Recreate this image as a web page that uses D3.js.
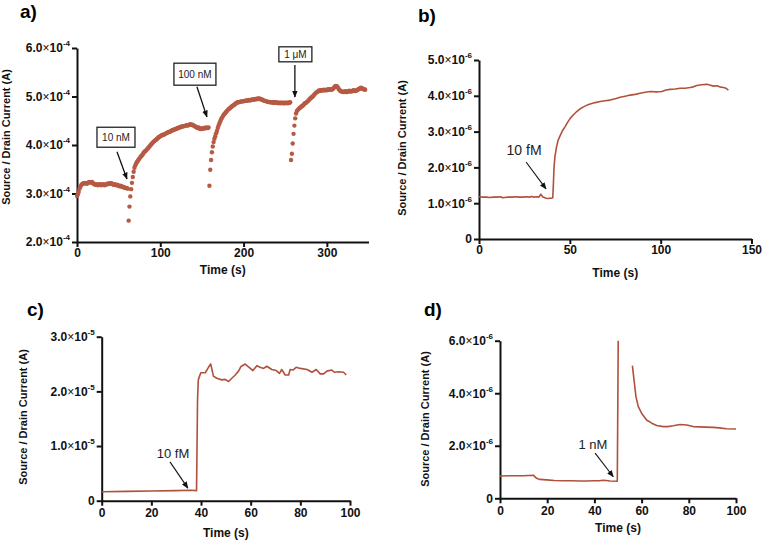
<!DOCTYPE html>
<html><head><meta charset="utf-8">
<script src="https://cdn.jsdelivr.net/npm/d3@7"></script>
<style>
body{margin:0;background:#fff}
svg{display:block}
text{font-family:"Liberation Sans",Arial,sans-serif}
</style>
</head><body>
<svg id="chart" width="762" height="541"></svg>
<script>
// ---------- DATA ----------
// Panel a: current (units of 1e-6 A) sampled every 1 s from t = 0 s
const stepA = 1;
const currentA = [
295,298,303,310,314,317,319,320,321,321,
322,321,320,322,323,324,323,322,324,322,
320,319,318,319,318,317,318,319,318,317,
318,319,318,317,318,319,320,319,320,321,
320,321,320,319,318,319,318,317,318,317,
316,315,316,315,314,314,313,312,312,311,
311,310,
244,273,294,309,322,334,345,353,358,362,
365,367,370,372,375,377,379,381,384,386,
387,389,391,393,395,397,399,401,403,405,
407,408,410,411,413,414,416,417,418,419,
420,421,421,422,423,424,425,426,427,427,
428,429,430,431,431,432,433,433,434,435,
435,436,437,437,438,438,439,439,440,440,
441,440,441,442,443,442,441,442,440,439,
438,437,436,435,436,434,433,434,433,434,
435,434,435,436,435,435,436,
316,349,369,385,397,406,413,418,424,429,
435,440,445,449,453,456,459,462,464,466,
468,470,472,474,475,477,478,480,481,482,
483,485,486,487,488,488,489,489,490,490,
490,490,491,491,492,491,492,493,492,492,
493,494,493,494,494,495,494,495,496,495,
496,495,494,494,493,492,491,491,490,490,
489,489,488,489,488,488,487,488,487,487,
488,487,487,486,487,487,486,487,487,486,
487,486,487,487,486,487,487,488,
369,382,403,423,440,455,465,470,472,474,
476,477,479,480,481,483,485,486,487,489,
490,492,494,496,497,499,500,502,504,506,
508,509,510,512,512,513,512,513,513,514,
513,513,514,513,514,515,514,515,514,515,
515,517,519,521,522,521,519,516,514,512,
511,510,510,509,510,511,510,509,510,511,
512,511,510,511,512,513,512,511,512,513,
514,515,516,517,518,517,516,515,515,514
];
const annotA = [
  {label:"10 nM", t:46.8, v:4.16, w:38, h:20, from:[48,3.86], to:[60,3.30]},
  {label:"100 nM", t:141.6, v:5.46, w:42, h:22, from:[144,5.20], to:[156,4.58]},
  {label:"1 \u03bcM", t:262.2, v:5.87, w:33, h:15, from:[261.6,5.65], to:[261.6,4.99]}
];

// Panel b (units 1e-6 A)
const timeB = [0,2,4,6,8,10,12,13,14,16,18,20,22,24,26,28,29,30,32,33,34,35,36,37,38,39,40,40.6,41.0,41.3,41.8,42.7,43.5,44.6,46,47.4,49,50.2,52,53.8,55.5,57.5,59.5,61.2,64,66.7,69.5,72.2,75,77.7,80.5,83.2,86,88.7,91.5,94.2,97.5,100.6,103,105.2,108,110.7,113.5,116.2,118,119.9,122.5,125.4,127,129,131,132.5,134.5,136,137.3];
const currentB = [1.18,1.17,1.17,1.16,1.17,1.17,1.18,1.15,1.16,1.17,1.17,1.18,1.17,1.17,1.18,1.17,1.19,1.17,1.18,1.17,1.25,1.18,1.16,1.14,1.13,1.14,1.14,1.15,1.60,2.00,2.30,2.58,2.75,2.88,3.03,3.14,3.28,3.37,3.47,3.56,3.63,3.69,3.74,3.77,3.81,3.84,3.86,3.88,3.92,3.96,3.99,4.02,4.04,4.07,4.10,4.12,4.11,4.12,4.16,4.18,4.19,4.21,4.21,4.23,4.25,4.29,4.31,4.32,4.30,4.27,4.28,4.25,4.23,4.21,4.16];

// Panel c (units 1e-5 A)
const timeC = [0,10,20,30,36,38.2,38.6,38.9,39.9,41.7,43.0,43.9,45.0,46.3,48.4,49.7,51.1,52.4,53.8,55.1,56.0,57.8,59.1,60.9,62.5,63.8,65.2,66.5,68.5,70.3,71.6,72.5,73.9,75.3,75.9,77,78.3,80,82.7,84.7,86.4,88,89.4,90.7,92.7,93.7,95.4,97.4,98.5];
const currentC = [0.165,0.17,0.178,0.185,0.19,0.185,1.85,2.21,2.34,2.34,2.44,2.50,2.28,2.24,2.21,2.22,2.18,2.24,2.30,2.37,2.45,2.50,2.45,2.38,2.47,2.44,2.42,2.46,2.40,2.38,2.33,2.40,2.30,2.30,2.40,2.39,2.44,2.42,2.40,2.35,2.40,2.32,2.32,2.37,2.39,2.35,2.36,2.35,2.30];

// Panel d (units 1e-6 A), null = no data
const timeD = [0,5,10,14.1,15.5,16.9,19.8,23,26.8,30,33.9,37,39.5,42,43.8,45,46.6,49.7,50.1,53,56.1,56.8,57.6,58.6,60,62.1,64.3,66.4,69.2,71,73.4,76.3,79.1,81.9,84.7,87,90.4,93,96,100];
const currentD = [0.85,0.86,0.86,0.88,0.76,0.72,0.70,0.68,0.67,0.67,0.66,0.66,0.67,0.67,0.69,0.68,0.66,0.65,6.0,null,5.05,4.5,3.87,3.49,3.24,2.98,2.86,2.77,2.73,2.73,2.76,2.81,2.79,2.73,2.72,2.71,2.70,2.68,2.65,2.64];

// Ticks
const xTicksA = [0,100,200,300], yTicksA = [2,3,4,5,6];
const xTicksB = [0,50,100,150],  yTicksB = [0,1,2,3,4,5];
const xTicksC = [0,20,40,60,80,100], yTicksC = [0,1,2,3];
const xTicksD = [0,20,40,60,80,100], yTicksD = [0,2,4,6];

// ---------- DRAW ----------
const svg = d3.select("#chart");
const INK = "#111";
const RED = "#b0513b";
const DOT = "#b65a44";

const defs = svg.append("defs");
defs.append("marker").attr("id","arr").attr("viewBox","0 0 10 10")
  .attr("refX",9).attr("refY",5).attr("markerWidth",7).attr("markerHeight",7)
  .attr("markerUnits","userSpaceOnUse").attr("orient","auto")
  .append("path").attr("d","M0,1 L10,5 L0,9 Z").attr("fill","#111");

function panel(cfg){
  const g = svg.append("g");
  const x = d3.scaleLinear().domain(cfg.xDomain).range([cfg.left, cfg.right]);
  const y = d3.scaleLinear().domain(cfg.yDomain).range([cfg.bottom, cfg.top]);

  const xa = g.append("g").attr("transform",`translate(0,${cfg.bottom})`)
    .call(d3.axisBottom(x).tickValues(cfg.xTicks).tickSize(5).tickSizeOuter(0).tickPadding(cfg.xPad).tickFormat(d3.format("d")));
  const ya = g.append("g").attr("transform",`translate(${cfg.left},0)`)
    .call(d3.axisLeft(y).tickValues(cfg.yTicks).tickSize(5).tickSizeOuter(0).tickPadding(2));
  [xa,ya].forEach(a=>{
    a.select(".domain").attr("stroke",INK).attr("stroke-width",2);
    a.selectAll(".tick line").attr("stroke",INK).attr("stroke-width",2);
    a.selectAll(".tick text").attr("fill",INK).attr("font-size",12).attr("font-weight","bold")
      .attr("font-family","'Liberation Sans',Arial,sans-serif");
  });
  ya.selectAll(".tick text").each(function(d){
    const t = d3.select(this); t.text(null);
    if(d===0){ t.text("0"); return; }
    t.append("tspan").text(d.toFixed(1));
    t.append("tspan").attr("font-weight","normal").text("\u00d7");
    t.append("tspan").text("10");
    t.append("tspan").attr("font-size",8).attr("dy","-0.75em").text("-"+cfg.exp);
  });

  // titles
  g.append("text").attr("x",(cfg.left+cfg.right)/2).attr("y",cfg.xTitleY)
    .attr("text-anchor","middle").attr("font-size",12).attr("font-weight","bold").attr("fill",INK).text("Time (s)");
  g.append("text").attr("transform",`translate(${cfg.yTitleX},${cfg.yTitleY}) rotate(-90)`)
    .attr("text-anchor","middle").attr("font-size",11).attr("font-weight","bold").attr("fill",INK)
    .text("Source / Drain Current (A)");
  g.append("text").attr("x",cfg.letterX).attr("y",cfg.letterY)
    .attr("font-family","Lato,'Open Sans',sans-serif").attr("font-size",19).attr("font-weight","bold")
    .attr("fill","#000").text(cfg.letter);
  return {g,x,y};
}

// Panel a
(function(){
  const p = panel({xDomain:[0,350], yDomain:[2,6], left:77, right:368.5, top:48, bottom:242,
    xTicks:xTicksA, yTicks:yTicksA, exp:4, xPad:1, xTitleY:274, yTitleX:10, yTitleY:137,
    letter:"a)", letterX:20, letterY:18});
  const pts = currentA.map((v,i)=>({t:i*stepA, v:v/100}));
  p.g.append("g").selectAll("circle").data(pts).join("circle")
    .attr("cx",d=>p.x(d.t)).attr("cy",d=>p.y(d.v)).attr("r",2.2).attr("fill",DOT);
  annotA.forEach(a=>{
    p.g.append("line").attr("x1",p.x(a.from[0])).attr("y1",p.y(a.from[1]))
      .attr("x2",p.x(a.to[0])).attr("y2",p.y(a.to[1]))
      .attr("stroke","#111").attr("stroke-width",1.3).attr("marker-end","url(#arr)");
    p.g.append("rect").attr("x",p.x(a.t)-a.w/2).attr("y",p.y(a.v)-a.h/2).attr("width",a.w).attr("height",a.h)
      .attr("fill","#fff").attr("stroke","#222").attr("stroke-width",1.3);
    p.g.append("text").attr("x",p.x(a.t)).attr("y",p.y(a.v)+3.5).attr("text-anchor","middle")
      .attr("font-size",10).attr("fill","#222").text(a.label);
  });
})();

function linePanel(cfg, times, vals, note){
  const p = panel(cfg);
  const data = times.map((t,i)=>({t, v:vals[i]}));
  p.g.append("path").datum(data)
    .attr("d", d3.line().defined(d=>d.v!==null).x(d=>p.x(d.t)).y(d=>p.y(d.v)))
    .attr("fill","none").attr("stroke",RED).attr("stroke-width",1.6).attr("stroke-linejoin","round");
  p.g.append("text").attr("x",p.x(note.t)).attr("y",p.y(note.v)).attr("text-anchor","middle")
    .attr("font-size",note.size).attr("fill","#222").text(note.label);
  p.g.append("line").attr("x1",p.x(note.from[0])).attr("y1",p.y(note.from[1]))
    .attr("x2",p.x(note.to[0])).attr("y2",p.y(note.to[1]))
    .attr("stroke","#111").attr("stroke-width",1.1).attr("marker-end","url(#arr)");
}

linePanel({xDomain:[0,150], yDomain:[0,5], left:479, right:751.5, top:60, bottom:239,
  xTicks:xTicksB, yTicks:yTicksB, exp:6, xPad:1, xTitleY:277, yTitleX:406, yTitleY:148,
  letter:"b)", letterX:418, letterY:22}, timeB, currentB,
  {label:"10 fM", t:24.8, v:2.35, size:14, from:[25.9,2.15], to:[36.9,1.40]});

linePanel({xDomain:[0,100], yDomain:[0,3], left:101.7, right:350, top:336.7, bottom:500.7,
  xTicks:xTicksC, yTicks:yTicksC, exp:5, xPad:3, xTitleY:537, yTitleX:27, yTitleY:417,
  letter:"c)", letterX:27, letterY:316}, timeC, currentC,
  {label:"10 fM", t:28.7, v:0.786, size:13, from:[27.5,0.71], to:[34.7,0.23]});

linePanel({xDomain:[0,100], yDomain:[0,6], left:500, right:736, top:340.7, bottom:498.3,
  xTicks:xTicksD, yTicks:yTicksD, exp:6, xPad:3, xTitleY:532, yTitleX:429, yTitleY:419,
  letter:"d)", letterX:424, letterY:316}, timeD, currentD,
  {label:"1 nM", t:39.4, v:1.88, size:13, from:[40.3,1.72], to:[48,0.82]});
</script>
</body></html>
